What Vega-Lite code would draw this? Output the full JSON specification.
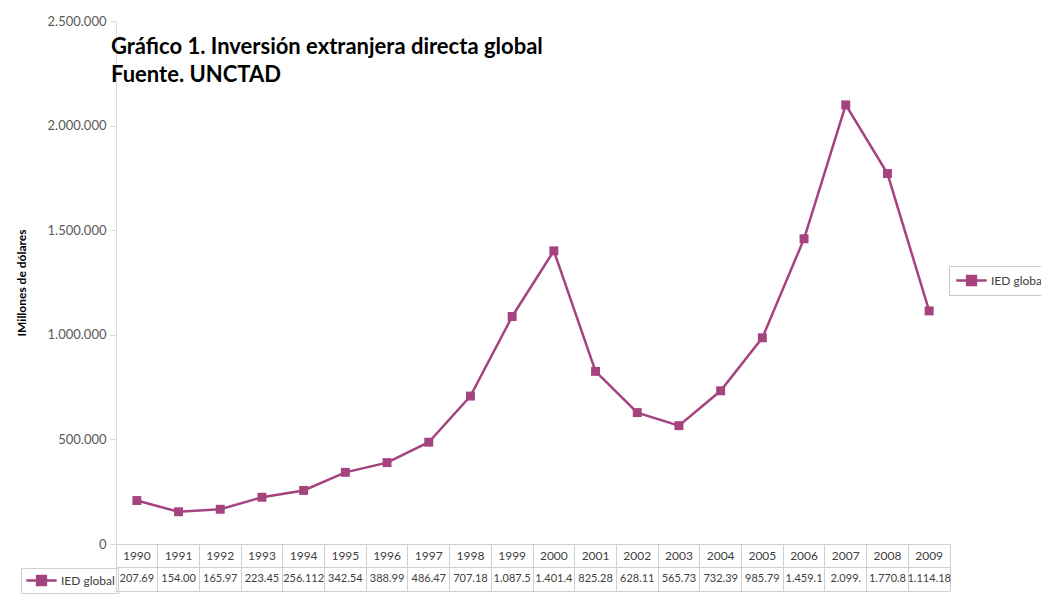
{
  "$schema": "https://vega.github.io/schema/vega-lite/v6.json",
  "autosize": {"type": "pad"},
  "padding": {"left": 15, "top": 15, "right": 0, "bottom": 0},
  "background": "white",
  "bounds": "flush",
  "config": {
    "font": "Lato",
    "view": {"stroke": null},
    "locale": {"number": {"decimal": ",", "thousands": ".", "grouping": [3], "currency": ["", ""]}},
    "axis": {"labelFont": "Lato", "titleFont": "Lato"},
    "legend": {"labelFont": "Lato"}
  },
  "data": {"values": [
    {"year": "1990", "value": 207690, "label": "207.69", "serie": "IED global"},
    {"year": "1991", "value": 154000, "label": "154.00", "serie": "IED global"},
    {"year": "1992", "value": 165970, "label": "165.97", "serie": "IED global"},
    {"year": "1993", "value": 223450, "label": "223.45", "serie": "IED global"},
    {"year": "1994", "value": 256112, "label": "256.112", "serie": "IED global"},
    {"year": "1995", "value": 342540, "label": "342.54", "serie": "IED global"},
    {"year": "1996", "value": 388990, "label": "388.99", "serie": "IED global"},
    {"year": "1997", "value": 486470, "label": "486.47", "serie": "IED global"},
    {"year": "1998", "value": 707180, "label": "707.18", "serie": "IED global"},
    {"year": "1999", "value": 1087500, "label": "1.087.5", "serie": "IED global"},
    {"year": "2000", "value": 1401400, "label": "1.401.4", "serie": "IED global"},
    {"year": "2001", "value": 825280, "label": "825.28", "serie": "IED global"},
    {"year": "2002", "value": 628110, "label": "628.11", "serie": "IED global"},
    {"year": "2003", "value": 565730, "label": "565.73", "serie": "IED global"},
    {"year": "2004", "value": 732390, "label": "732.39", "serie": "IED global"},
    {"year": "2005", "value": 985790, "label": "985.79", "serie": "IED global"},
    {"year": "2006", "value": 1459100, "label": "1.459.1", "serie": "IED global"},
    {"year": "2007", "value": 2099000, "label": "2.099.", "serie": "IED global"},
    {"year": "2008", "value": 1770800, "label": "1.770.8", "serie": "IED global"},
    {"year": "2009", "value": 1114180, "label": "1.114.18", "serie": "IED global"}
  ]},
  "spacing": 0,
  "resolve": {"legend": {"color": "independent"}},
  "vconcat": [
    {
      "width": 834,
      "height": 523,
      "title": {
        "text": ["Gráfico 1. Inversión extranjera directa global", "Fuente. UNCTAD"],
        "font": "Lato",
        "fontSize": 22,
        "fontWeight": "bold",
        "color": "#000000",
        "anchor": "start",
        "frame": "group",
        "dx": -5,
        "offset": -72,
        "lineHeight": 28
      },
      "encoding": {
        "x": {
          "field": "year", "type": "ordinal",
          "scale": {"type": "point", "padding": 0.5},
          "axis": null
        },
        "y": {
          "field": "value", "type": "quantitative",
          "scale": {"domain": [0, 2500000], "nice": false},
          "axis": {
            "values": [0, 500000, 1000000, 1500000, 2000000, 2500000],
            "format": ",d",
            "grid": false,
            "domainColor": "#d9d9d9",
            "tickColor": "#d9d9d9",
            "tickSize": 6,
            "labelPadding": 4,
            "labelFontSize": 13,
            "labelColor": "#595959",
            "title": "IMillones de dólares",
            "titleFontSize": 12,
            "titleFontWeight": "bold",
            "titleColor": "#000000",
            "titlePadding": 19
          }
        },
        "color": {
          "field": "serie", "type": "nominal",
          "scale": {"range": ["#a5437f"]},
          "legend": {
            "title": null,
            "orient": "none",
            "legendX": 833,
            "legendY": 245,
            "strokeColor": "#c8c8c8",
            "padding": 5,
            "symbolType": "M-1.9,0H1.9M-0.55,-0.55H0.55V0.55H-0.55Z",
            "symbolSize": 256,
            "symbolStrokeWidth": 2.5,
            "symbolOffset": 8,
            "labelOffset": 10,
            "labelFontSize": 12,
            "labelColor": "#404040",
            "symbolOpacity": 1,
            "encode": {"symbols": {"update": {"fill": {"value": "#a5437f"}, "stroke": {"value": "#a5437f"}}}}
          }
        }
      },
      "layer": [
        {"mark": {"type": "line", "strokeWidth": 2.5}},
        {"mark": {"type": "point", "shape": "square", "filled": true, "size": 80, "opacity": 1}}
      ]
    },
    {
      "width": 834,
      "height": 47,
      "view": {"stroke": "#d0d0d0"},
      "encoding": {
        "x": {
          "field": "year", "type": "ordinal",
          "scale": {"type": "band", "paddingInner": 0, "paddingOuter": 0},
          "axis": {"orient": "top", "labels": false, "ticks": false, "domain": false, "title": null, "grid": true, "bandPosition": 0, "gridColor": "#d0d0d0", "gridOpacity": 1}
        }
      },
      "layer": [
        {
          "mark": {"type": "text", "fontSize": 12, "color": "#404040", "font": "Lato"},
          "encoding": {
            "y": {"datum": "year", "type": "ordinal", "scale": {"domain": ["year", "value"], "type": "band", "paddingInner": 0, "paddingOuter": 0},
              "axis": {"labels": false, "ticks": false, "domain": false, "title": null, "grid": true, "bandPosition": 0, "gridColor": "#d0d0d0", "gridOpacity": 1}},
            "text": {"field": "year"}
          }
        },
        {
          "mark": {"type": "text", "fontSize": 11, "color": "#404040", "font": "Lato"},
          "encoding": {
            "y": {"datum": "value", "type": "ordinal"},
            "text": {"field": "label"}
          }
        },
        {
          "mark": {"type": "point", "opacity": 0, "filled": true, "shape": "square"},
          "encoding": {
            "y": {"datum": "value", "type": "ordinal"},
            "color": {
              "field": "serie", "type": "nominal",
              "legend": {
                "title": null,
                "orient": "none",
                "legendX": -95,
                "legendY": 24,
                "strokeColor": "#d0d0d0",
                "padding": 3,
                "symbolType": "M-1.9,0H1.9M-0.55,-0.55H0.55V0.55H-0.55Z",
                "symbolSize": 256,
                "symbolStrokeWidth": 2.5,
                "symbolOffset": 8,
                "labelOffset": 10,
                "labelFontSize": 12,
                "labelColor": "#404040",
                "symbolOpacity": 1,
                "encode": {"symbols": {"update": {"fill": {"value": "#a5437f"}, "stroke": {"value": "#a5437f"}, "opacity": {"value": 1}}}}
              }
            }
          }
        }
      ]
    }
  ]
}
